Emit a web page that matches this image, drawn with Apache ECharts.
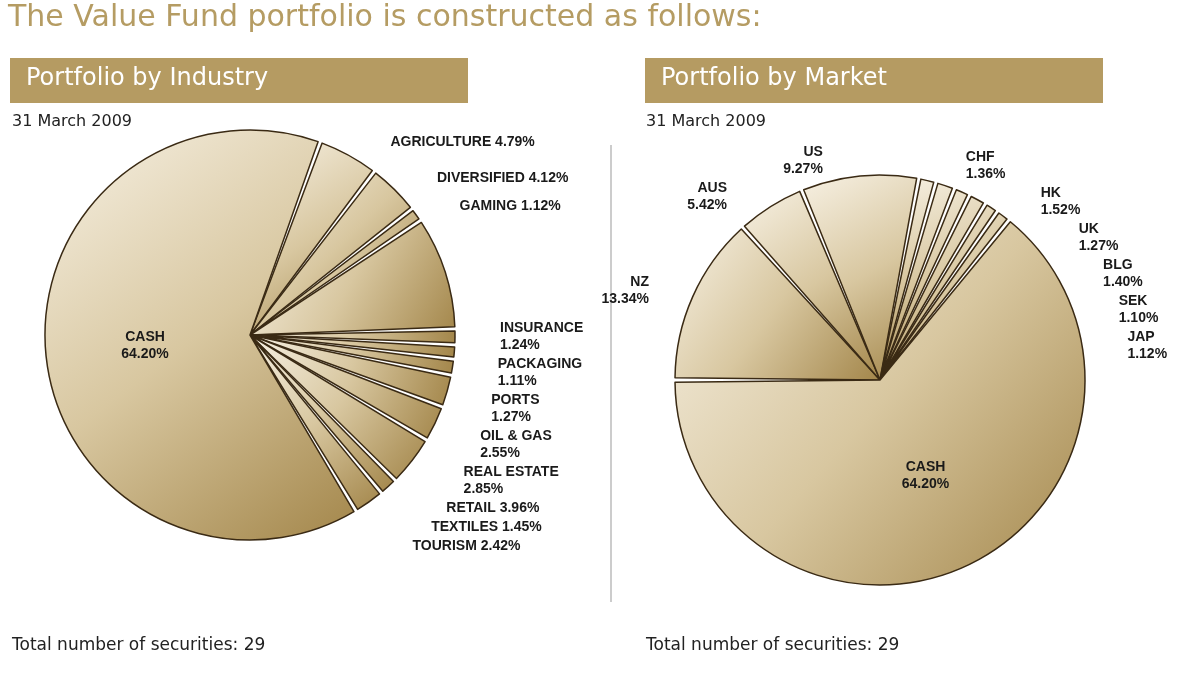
<!DOCTYPE html>
<html>
<head>
<meta charset="utf-8">
<script src="https://cdn.jsdelivr.net/npm/echarts@6/dist/echarts.min.js"></script>
<style>
  html, body { margin: 0; padding: 0; background: #fff; }
  #main { width: 1177px; height: 676px; }
</style>
</head>
<body>
<div id="main"></div>
<script>
// Portfolio by Industry
var industryNames = ['AGRICULTURE', 'DIVERSIFIED', 'GAMING', 'INVESTMENT CO.', 'INSURANCE', 'PACKAGING',
  'PORTS', 'OIL & GAS', 'REAL ESTATE', 'RETAIL', 'TEXTILES', 'TOURISM', 'CASH'];
var industryValues = [4.79, 4.12, 1.12, 8.94, 1.24, 1.11, 1.27, 2.55, 2.85, 3.96, 1.45, 2.42, 64.20];
// Portfolio by Market
var marketNames = ['NZ', 'AUS', 'US', 'CHF', 'HK', 'UK', 'BLG', 'SEK', 'JAP', 'CASH'];
var marketValues = [13.34, 5.42, 9.27, 1.36, 1.52, 1.27, 1.40, 1.10, 1.12, 64.20];

var twoLineIndustry = ['INVESTMENT CO.', 'INSURANCE', 'PACKAGING', 'PORTS', 'OIL & GAS', 'REAL ESTATE', 'CASH'];

var gold = new echarts.graphic.LinearGradient(0, 0, 1, 1, [
  { offset: 0, color: '#f7f1e4' },
  { offset: 0.5, color: '#d8c7a0' },
  { offset: 1, color: '#a3864a' }
]);
var slice = { color: gold, borderColor: '#3a2a14', borderWidth: 1.5 };
var lbl = { color: '#1a1a1a', fontWeight: 'bold', fontSize: 14, fontFamily: 'Liberation Sans',
  lineHeight: 17, overflow: 'none' };

function fmt(twoLine) {
  return function (p) {
    var v = p.value.toFixed(2) + '%';
    return (twoLine === true || (twoLine && twoLine.indexOf(p.name) >= 0)) ? p.name + '\n' + v : p.name + ' ' + v;
  };
}
function build(names, values) {
  return names.map(function (n, i) {
    var d = { name: n, value: values[i] };
    if (n === 'CASH') d.label = { position: 'inside', align: 'center' };
    return d;
  });
}

var chart = echarts.init(document.getElementById('main'));
chart.setOption({
  animation: false,
  graphic: [
    { type: 'text', left: 8, top: 3, style: { text: 'The Value Fund portfolio is constructed as follows:', fill: '#b59c63', font: '30px "DejaVu Sans"' } },
    { type: 'rect', shape: { x: 10, y: 58, width: 458, height: 45 }, style: { fill: '#b59b62' } },
    { type: 'text', left: 26, top: 67, style: { text: 'Portfolio by Industry', fill: '#fff', font: '24px "DejaVu Sans"' } },
    { type: 'rect', shape: { x: 645, y: 58, width: 458, height: 45 }, style: { fill: '#b59b62' } },
    { type: 'text', left: 661, top: 67, style: { text: 'Portfolio by Market', fill: '#fff', font: '24px "DejaVu Sans"' } },
    { type: 'text', left: 12, top: 114, style: { text: '31 March 2009', fill: '#222', font: '16px "DejaVu Sans"' } },
    { type: 'text', left: 646, top: 114, style: { text: '31 March 2009', fill: '#222', font: '16px "DejaVu Sans"' } },
    { type: 'line', shape: { x1: 611, y1: 145, x2: 611, y2: 602 }, style: { stroke: '#999', lineWidth: 1 } },
    { type: 'text', left: 12, top: 637, style: { text: 'Total number of securities: 29', fill: '#222', font: '17px "DejaVu Sans"' } },
    { type: 'text', left: 646, top: 637, style: { text: 'Total number of securities: 29', fill: '#222', font: '17px "DejaVu Sans"' } }
  ],
  series: [
    {
      type: 'pie', center: [250, 335], radius: [0, 205], startAngle: 70, padAngle: 1.2,
      itemStyle: slice, label: Object.assign({ formatter: fmt(twoLineIndustry) }, lbl), labelLine: { show: false },
      emphasis: { disabled: true }, data: build(industryNames, industryValues)
    },
    {
      type: 'pie', center: [880, 380], radius: [0, 205], startAngle: 180, padAngle: 1.2,
      itemStyle: slice, label: Object.assign({ formatter: fmt(true) }, lbl), labelLine: { show: false },
      emphasis: { disabled: true }, data: build(marketNames, marketValues)
    }
  ]
});
</script>
</body>
</html>
